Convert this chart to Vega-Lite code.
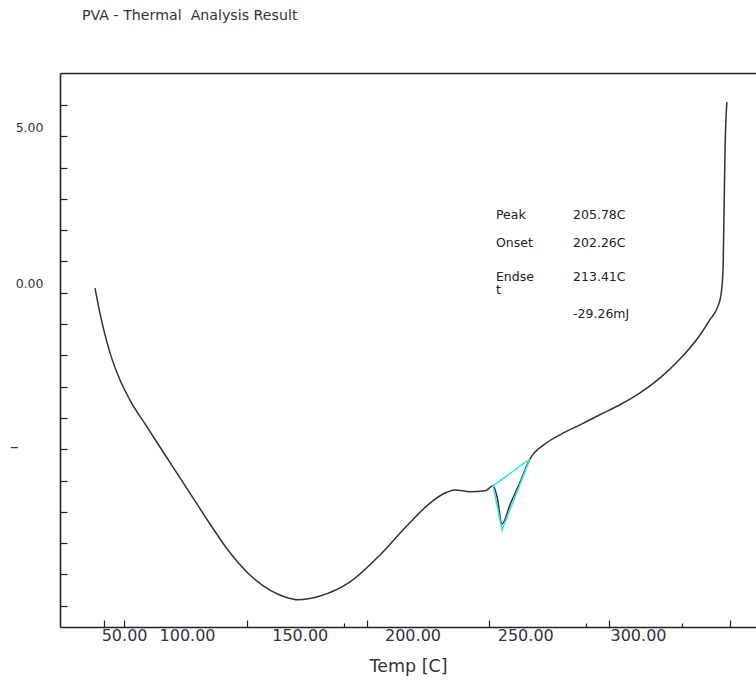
{
  "$schema": "https://vega.github.io/schema/vega-lite/v6.json",
  "width": 696,
  "height": 554,
  "autosize": "none",
  "padding": {"left": 60, "top": 73, "right": 0, "bottom": 55},
  "background": "white",
  "config": {"view": {"stroke": null}, "font": "DejaVu Sans"},
  "title": {
    "text": "PVA - Thermal\u00a0 Analysis Result",
    "anchor": "start", "frame": "group", "dx": 22, "offset": 50,
    "fontSize": 14.2, "fontWeight": "normal", "color": "#333333", "font": "DejaVu Sans"
  },
  "datasets": {
    "curve": [
      {"T": 59.2, "v": 0.15}, {"T": 61.4, "v": -0.65}, {"T": 65.9, "v": -1.93}, {"T": 70.3, "v": -2.79},
      {"T": 74.7, "v": -3.43}, {"T": 82.3, "v": -4.29}, {"T": 88.0, "v": -4.93}, {"T": 93.8, "v": -5.57},
      {"T": 101.3, "v": -6.40}, {"T": 110.2, "v": -7.39}, {"T": 119.1, "v": -8.31}, {"T": 127.9, "v": -9.02},
      {"T": 136.8, "v": -9.50}, {"T": 143.5, "v": -9.72}, {"T": 149.2, "v": -9.81}, {"T": 159.0, "v": -9.69},
      {"T": 172.3, "v": -9.24},
      {"T": 185.6, "v": -8.38}, {"T": 196.7, "v": -7.51}, {"T": 207.8, "v": -6.72}, {"T": 214.4, "v": -6.40},
      {"T": 218.8, "v": -6.30}, {"T": 225.5, "v": -6.36}, {"T": 232.2, "v": -6.33}, {"T": 235.7, "v": -6.17},
      {"T": 237.5, "v": -6.52}, {"T": 239.7, "v": -7.39}, {"T": 243.2, "v": -6.78}, {"T": 247.7, "v": -6.05},
      {"T": 252.1, "v": -5.31}, {"T": 258.8, "v": -4.83}, {"T": 265.4, "v": -4.54}, {"T": 274.3, "v": -4.22},
      {"T": 283.1, "v": -3.90}, {"T": 292.0, "v": -3.58}, {"T": 300.9, "v": -3.20}, {"T": 309.8, "v": -2.72},
      {"T": 318.6, "v": -2.12}, {"T": 327.5, "v": -1.35}, {"T": 331.9, "v": -0.86}, {"T": 335.5, "v": -0.42},
      {"T": 336.8, "v": -0.07}, {"T": 337.7, "v": 0.73}, {"T": 338.1, "v": 2.33}, {"T": 338.6, "v": 4.56},
      {"T": 339.4, "v": 6.09}
    ],
    "peak": [
      {"i": 1, "T": 252.1, "v": -5.31},
      {"i": 2, "T": 235.7, "v": -6.17},
      {"i": 3, "T": 239.7, "v": -7.58},
      {"i": 4, "T": 252.1, "v": -5.31}
    ],
    "notes": [
      {"T": 237.0, "v": 2.49, "label": "Peak"},
      {"T": 271.2, "v": 2.49, "label": "205.78C"},
      {"T": 237.0, "v": 1.59, "label": "Onset"},
      {"T": 271.2, "v": 1.59, "label": "202.26C"},
      {"T": 237.0, "v": 0.50, "label": "Endse"},
      {"T": 237.0, "v": 0.09, "label": "t"},
      {"T": 271.2, "v": 0.50, "label": "213.41C"},
      {"T": 271.2, "v": -0.68, "label": "-29.26mJ"}
    ]
  },
  "encoding": {
    "y": {
      "field": "v", "type": "quantitative",
      "scale": {"domain": [-10.68, 7.02], "nice": false, "zero": false},
      "axis": {
        "title": null,
        "values": [-10, -9, -8, -7, -6, -5, -4, -3, -2, -1, 0, 1, 2, 3, 4, 5, 6],
        "labelExpr": "datum.value == 5 ? '5.00' : (datum.value == 0 ? '0.00' : (datum.value == -5 ? '\u2013' : ''))",
        "labelFont": "DejaVu Sans", "labelColor": "#333333",
        "labelFontSize": {"condition": {"test": "datum.value == -5", "value": 17}, "value": 12.5},
        "labelOverlap": false,
        "labelOffset": {"condition": {"test": "datum.value == -5", "value": -3}, "value": -9},
        "labelPadding": {"condition": {"test": "datum.value == -5", "value": 49}, "value": 24},
        "tickSize": -7, "tickColor": "#222222", "tickWidth": 1.2,
        "domainColor": "#222222", "domainWidth": 1.6,
        "grid": false
      }
    }
  },
  "layer": [
    {
      "data": {"name": "curve"},
      "mark": {"type": "line", "color": "#333333", "strokeWidth": 1.5, "interpolate": "monotone"},
      "encoding": {
        "x": {
          "field": "T", "type": "quantitative",
          "scale": {"domain": [43.68, 352.33], "nice": false, "zero": false},
          "axis": {
            "orient": "bottom",
            "title": "Temp [C]",
            "titleFont": "DejaVu Sans", "titleFontSize": 17.5, "titleFontWeight": "normal", "titleColor": "#333333",
            "titlePadding": 14,
            "values": [63.2, 72.1, 100, 126.6, 150, 169.6, 179.8, 200, 233.9, 250, 276.9, 287.1, 300, 319.5, 340.8],
            "labelExpr": "datum.value < 70 ? '' : (datum.value < 90 ? '50.00' : (datum.value % 50 == 0 ? format(datum.value, '.2f') : ''))",
            "labelFont": "DejaVu Sans", "labelFontSize": 16, "labelColor": "#333344",
            "labelOverlap": false, "labelBound": false, "labelFlush": false,
            "labelPadding": {"condition": {"test": "datum.value < 90", "value": 7}, "value": 0},
            "tickSize": {"condition": [
              {"test": "datum.value % 50 == 0", "value": 0},
              {"test": "datum.value == 169.6 || datum.value == 276.9 || datum.value == 319.5", "value": -4}
            ], "value": -7},
            "tickColor": "#222222", "tickWidth": 1.2,
            "domainColor": "#222222", "domainWidth": 1.6,
            "grid": false
          }
        }
      }
    },
    {
      "data": {"name": "peak"},
      "mark": {"type": "line", "color": "#33e0e8", "strokeWidth": 1.5},
      "encoding": {
        "x": {
          "field": "T", "type": "quantitative",
          "axis": {"orient": "top", "labels": false, "ticks": false, "title": null, "grid": false, "domainColor": "#222222", "domainWidth": 1.6}
        },
        "order": {"field": "i"}
      }
    },
    {
      "data": {"name": "notes"},
      "mark": {"type": "text", "align": "left", "baseline": "middle", "font": "DejaVu Sans", "fontSize": 12.5, "color": "#222222"},
      "encoding": {
        "x": {"field": "T", "type": "quantitative", "axis": null},
        "text": {"field": "label"}
      }
    }
  ],
  "resolve": {"axis": {"x": "independent"}}
}
